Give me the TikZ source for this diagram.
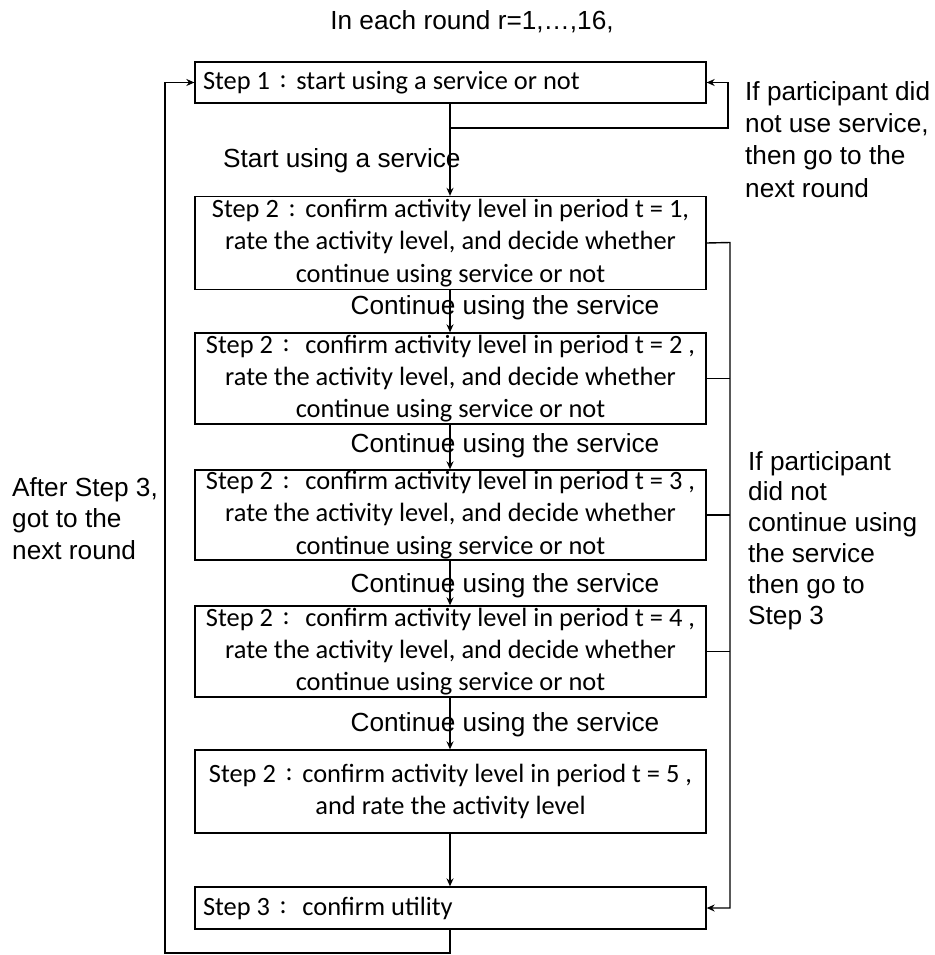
\documentclass[tikz,border=0pt]{standalone}
\usepackage{fontspec}
\setmainfont{Carlito}
\newfontfamily\arial{Liberation Sans}
\usetikzlibrary{arrows.meta}
\newcommand{\fc}{\makebox[1em][c]{\raisebox{0.06em}{:}}}
\begin{document}
\begin{tikzpicture}[x=1pt,y=-1pt,
  box/.style={draw,line width=1.3pt,minimum width=511pt,inner sep=0pt,align=center,font=\fontsize{26.4}{32.3}\selectfont},
  lbl/.style={font=\arial\fontsize{26.2}{31.5}\selectfont,inner sep=0pt,align=left},
  con/.style={line width=1.4pt},
  arr/.style={con,-{Stealth[length=8pt,width=7pt]}}]
\useasboundingbox (0,0) rectangle (934,955);
\node[lbl,anchor=center] (title) at (472,22) {In each round r=1,\dots,16,};
\node[box,minimum height=41pt,text width=495pt,align=flush left] (s1) at (450.5,82.5) {Step 1\fc start using a service or not};
\node[box,minimum height=93pt] (b1) at (450.5,243) {Step 2\fc confirm activity level in period t = 1,\\rate the activity level, and decide whether\\continue using service or not};
\node[box,minimum height=91pt] (b2) at (450.5,378.5) {Step 2\fc\ confirm activity level in period t = 2 ,\\rate the activity level, and decide whether\\continue using service or not};
\node[box,minimum height=90pt] (b3) at (450.5,515) {Step 2\fc\ confirm activity level in period t = 3 ,\\rate the activity level, and decide whether\\continue using service or not};
\node[box,minimum height=91pt] (b4) at (450.5,651.5) {Step 2\fc\ confirm activity level in period t = 4 ,\\rate the activity level, and decide whether\\continue using service or not};
\node[box,minimum height=83pt] (b5) at (450.5,791.5) {Step 2\fc confirm activity level in period t = 5 ,\\and rate the activity level};
\node[box,minimum height=42pt,text width=495pt,align=flush left] (s3) at (450.5,908) {Step 3\fc\ confirm utility};
% labels
\node[lbl,anchor=west] (lstart) at (223,161) {Start using a service};
\node[lbl,anchor=center] (lc1) at (505,308) {Continue using the service};
\node[lbl,anchor=center] (lc2) at (505,446) {Continue using the service};
\node[lbl,anchor=center] (lc3) at (505,586) {Continue using the service};
\node[lbl,anchor=center] (lc4) at (505,725) {Continue using the service};
\node[lbl,anchor=north west,font=\arial\fontsize{26.2}{32.3}\selectfont] (ltop) at (745,81) {If participant did\\not use service,\\then go to the\\next round};
\node[lbl,anchor=north west,font=\arial\fontsize{26.2}{30.8}\selectfont] (lright) at (748,451) {If participant\\did not\\continue using\\the service\\then go to\\Step 3};
\node[lbl,anchor=north west] (lleft) at (12,477) {After Step 3,\\got to the\\next round};
% connectors
\coordinate (br) at (450,128);
\coordinate (tr) at (728,128);
\coordinate (rx) at (730,242.5);
\coordinate (bl) at (450,953);
\coordinate (lx) at (165,953);
\draw[arr] (s1.south -| br) -- (b1.north -| br);
\draw[arr] (br) -- (tr) |- (s1.east);
\draw[arr] (b1.south -| br) -- (b2.north -| br);
\draw[arr] (b2.south -| br) -- (b3.north -| br);
\draw[arr] (b3.south -| br) -- (b4.north -| br);
\draw[arr] (b4.south -| br) -- (b5.north -| br);
\draw[arr] (b5.south -| br) -- (s3.north -| br);
\draw[arr] (b1.east) -- (rx) |- (s3.east);
\draw[con] (b2.east) -- (b2.east -| rx);
\draw[con] (b3.east) -- (b3.east -| rx);
\draw[con] (b4.east) -- (b4.east -| rx);
\draw[arr] (s3.south -| bl) -- (bl) -- (lx) |- (s1.west);
\end{tikzpicture}
\end{document}
